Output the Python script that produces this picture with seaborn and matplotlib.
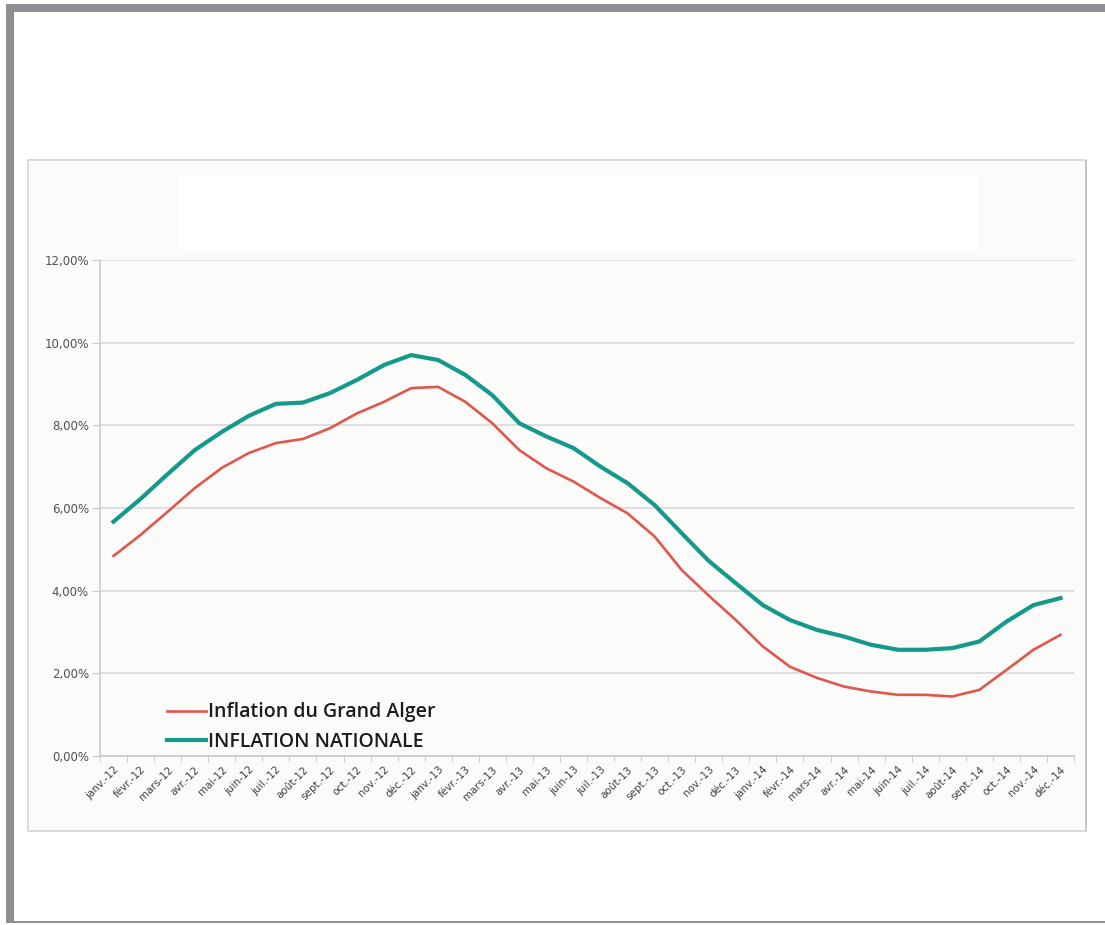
import pandas as pd
import seaborn as sns
import matplotlib.pyplot as plt
from matplotlib.patches import Rectangle
from matplotlib.ticker import FuncFormatter, FixedLocator

# mois de janv.-12 à déc.-14
mois = ["janv.", "févr.", "mars", "avr.", "mai", "juin",
        "juil.", "août", "sept.", "oct.", "nov.", "déc."]
annees = ["12", "13", "14"]
periodes = [f"{m}-{a}" for a in annees for m in mois]

inflation_alger = [4.84, 5.35, 5.91, 6.48, 6.97, 7.33, 7.57, 7.67, 7.93, 8.29, 8.57, 8.90,
                   8.93, 8.57, 8.05, 7.40, 6.96, 6.64, 6.24, 5.87, 5.31, 4.50, 3.88, 3.29,
                   2.65, 2.16, 1.89, 1.68, 1.56, 1.48, 1.48, 1.44, 1.60, 2.08, 2.57, 2.93]
inflation_nationale = [5.67, 6.22, 6.82, 7.40, 7.84, 8.23, 8.52, 8.55, 8.78, 9.10, 9.46, 9.70,
                       9.58, 9.22, 8.73, 8.05, 7.73, 7.45, 7.00, 6.60, 6.07, 5.39, 4.72, 4.18,
                       3.65, 3.29, 3.05, 2.89, 2.69, 2.57, 2.57, 2.61, 2.77, 3.25, 3.65, 3.82]

label_alger = "Inflation du Grand Alger"
label_nat = "INFLATION NATIONALE"

W, H = 1105, 925
fig = plt.figure(figsize=(W / 100, H / 100), dpi=100)
fig.patch.set_facecolor("white")


def px_rect(x0, y0, x1, y1, **kw):
    # rectangle en pixels (origine en haut à gauche)
    return Rectangle((x0 / W, 1 - y1 / H), (x1 - x0) / W, (y1 - y0) / H,
                     transform=fig.transFigure, **kw)


# cadre gris extérieur
gris = "#8e8e92"
fig.add_artist(px_rect(6, 4, 1105, 12, facecolor=gris, edgecolor="none", zorder=-3))
fig.add_artist(px_rect(6, 4, 14, 923, facecolor=gris, edgecolor="none", zorder=-3))
fig.add_artist(px_rect(6, 921, 1105, 923, facecolor=gris, edgecolor="none", zorder=-3))

# zone du graphique + bloc titre (vide)
fig.add_artist(px_rect(28, 160, 1086, 831, facecolor="#fbfbfa", edgecolor="#d4d4d4",
                       linewidth=1.2, zorder=-2))
fig.add_artist(px_rect(1085, 160, 1087, 831, facecolor="#c4c4c4", edgecolor="none", zorder=-2))
fig.add_artist(px_rect(178, 175, 978, 250, facecolor="white", edgecolor="none", zorder=-1))

ax = fig.add_axes([100 / W, 1 - 756 / H, 974 / W, 496 / H])
ax.set_facecolor("none")

df = pd.DataFrame({"periode": periodes,
                   "alger": inflation_alger,
                   "nationale": inflation_nationale})
df["x"] = range(len(df))

sns.lineplot(data=df, x="x", y="alger", ax=ax, color="#e0574d", linewidth=1.9,
             label=label_alger)
sns.lineplot(data=df, x="x", y="nationale", ax=ax, color="#14998a", linewidth=3.0,
             label=label_nat)

ax.set_xlim(-0.5, len(periodes) - 0.5)
ax.set_ylim(0, 12)
ax.set_xlabel("")
ax.set_ylabel("")

ax.yaxis.set_major_locator(FixedLocator([0, 2, 4, 6, 8, 10, 12]))
ax.yaxis.set_major_formatter(FuncFormatter(lambda v, p: f"{v:.2f}".replace(".", ",") + "%"))
ax.grid(axis="y", color="#d6d6d6", linewidth=1.1)
ax.set_axisbelow(True)

ax.set_xticks(range(len(periodes)))
ax.set_xticklabels(periodes, rotation=45, ha="right", rotation_mode="anchor",
                   fontsize=7.5, color="#404040")
ax.xaxis.set_minor_locator(FixedLocator([i - 0.5 for i in range(len(periodes) + 1)]))
ax.tick_params(axis="x", which="major", length=0, pad=6)
ax.tick_params(axis="x", which="minor", length=4, color="#c8c8c8")
ax.tick_params(axis="y", length=6, color="#c8c8c8", labelsize=8.5, labelcolor="#505050", pad=2)

for s in ["top", "right"]:
    ax.spines[s].set_visible(False)
for s in ["left", "bottom"]:
    ax.spines[s].set_color("#c8c8c8")
    ax.spines[s].set_linewidth(1.1)

leg = ax.legend(loc="lower left", bbox_to_anchor=(0.069, 0.008), frameon=False,
                borderpad=0, borderaxespad=0,
                handlelength=2.0, handletextpad=0.1, labelspacing=0.5,
                prop={"family": "Open Sans", "size": 14, "weight": "semibold"})
for t in leg.get_texts():
    t.set_color("#1c1c1c")

fig.savefig("out.png", dpi=100)
